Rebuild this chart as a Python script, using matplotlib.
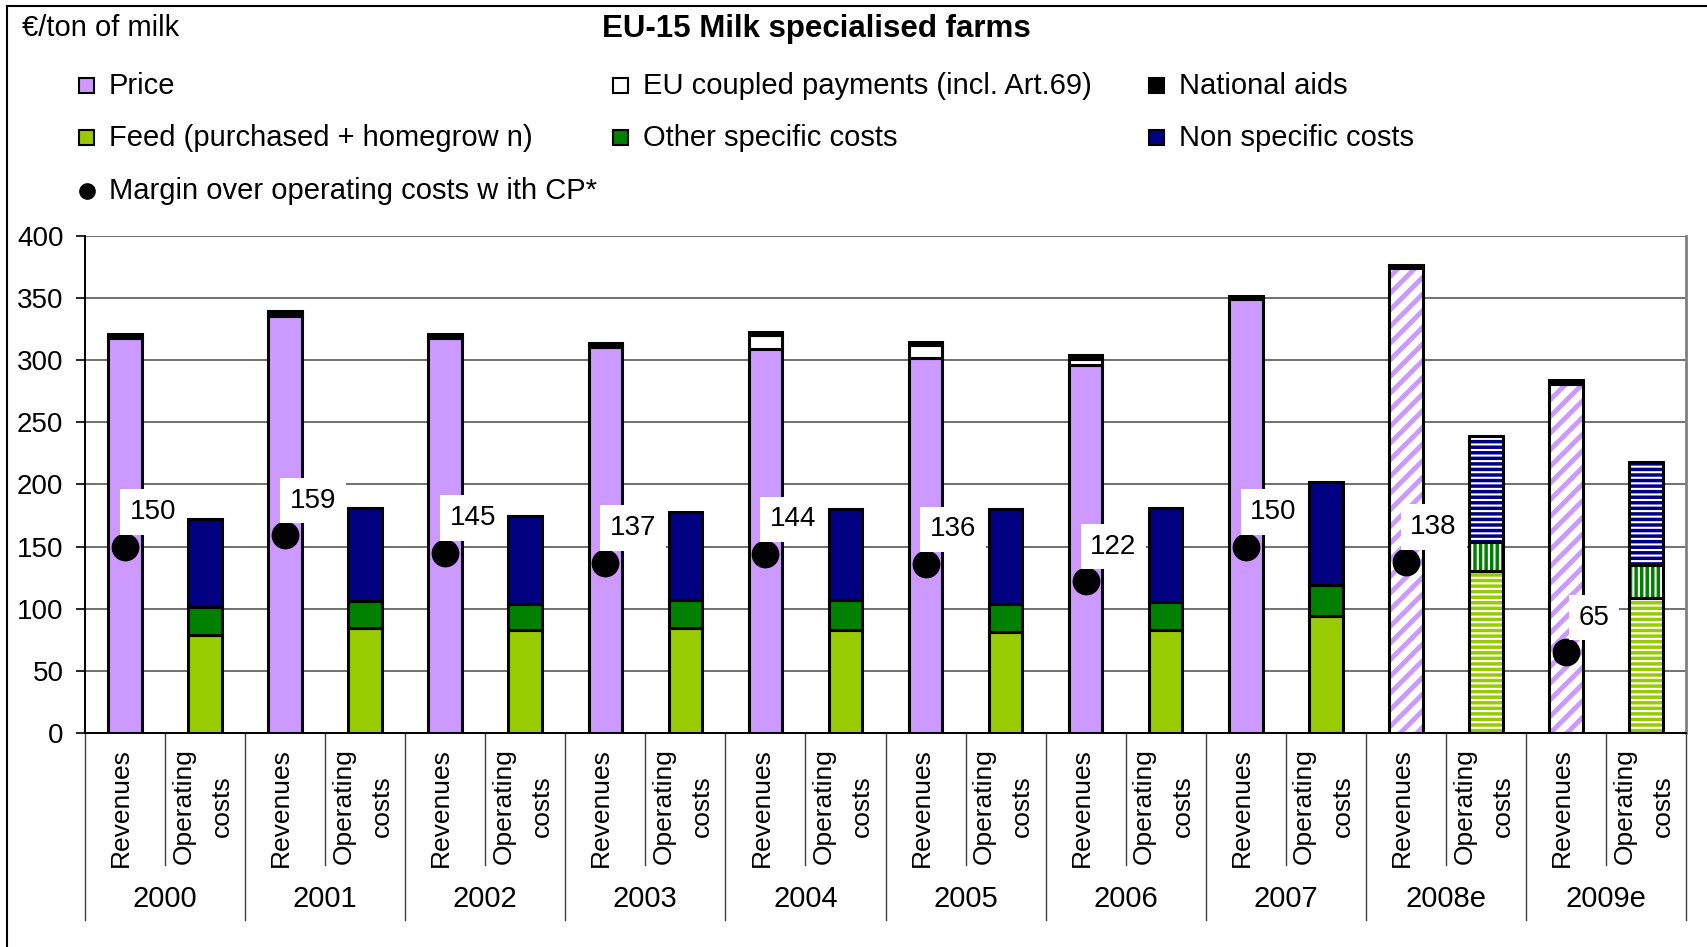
import numpy as np
import matplotlib
matplotlib.use("Agg")
import matplotlib.pyplot as plt
from matplotlib.patches import Rectangle
from matplotlib.lines import Line2D

plt.rcParams['font.family'] = ['Liberation Sans', 'DejaVu Sans']
plt.rcParams['hatch.linewidth'] = 2.5

# ---- data (EUR / ton of milk) ----
years = ["2000", "2001", "2002", "2003", "2004", "2005", "2006", "2007", "2008e", "2009e"]
price = [318, 335.5, 318, 310.5, 309, 302, 296, 349, 374, 280.5]
eu_coupled = [0, 0, 0, 0, 11, 10, 5, 0, 0, 0]
national_aids = [3, 4, 3, 3, 3, 3, 3, 3, 3, 4]
feed = [79, 84.5, 83, 84.5, 83, 81.5, 83, 94.5, 130, 109]
other_specific = [22.5, 22, 21, 22.5, 24, 22.5, 22.5, 24.5, 24, 26]
non_specific = [70.5, 74.5, 71, 71, 73, 76, 75.5, 83, 85, 83.5]
margin = [150, 159, 145, 137, 144, 136, 122, 150, 138, 65]
estimated = [False] * 8 + [True] * 2

W, H = 1707, 947
fig = plt.figure(figsize=(W / 100, H / 100), dpi=100)
ax = fig.add_axes([85 / W, 1 - 733 / H, (1686 - 85) / W, (733 - 236) / H])

rev_x = np.arange(len(years)) * 2
op_x = rev_x + 1
bw = 0.42
edge_lw = 2.2


def stack(xs, heights, bottoms, color, hatch, hatch_lw=2.5):
    for x, h, b, est in zip(xs, heights, bottoms, estimated):
        if h <= 0:
            continue
        if est and hatch:
            with plt.rc_context({'hatch.linewidth': hatch_lw}):
                ax.bar(x, h, bottom=b, width=bw, color='white', edgecolor=color,
                       linewidth=0, hatch=hatch, zorder=2)
            ax.bar(x, h, bottom=b, width=bw, fill=False, edgecolor='black',
                   linewidth=edge_lw, zorder=3)
        else:
            ax.bar(x, h, bottom=b, width=bw, color=color, edgecolor='black',
                   linewidth=edge_lw, zorder=3)


# revenues
b = np.zeros(len(years))
stack(rev_x, price, b, '#CC99FF', '//', 3.5)
b = b + np.array(price)
stack(rev_x, eu_coupled, b, 'white', None)
b = b + np.array(eu_coupled)
stack(rev_x, national_aids, b, 'black', None)

# operating costs
b = np.zeros(len(years))
stack(op_x, feed, b, '#99CC00', '---')
b = b + np.array(feed)
stack(op_x, other_specific, b, '#008000', '|||')
b = b + np.array(other_specific)
stack(op_x, non_specific, b, '#000080', '---')

# margin dots + labels
ax.plot(rev_x, margin, 'o', color='black', ms=19, linestyle='none', zorder=5)
for x, m in zip(rev_x, margin):
    ax.annotate(str(m), (x, m), xytext=(20, 25), textcoords='offset points',
                ha='center', va='center', fontsize=20, zorder=6,
                bbox=dict(boxstyle='square,pad=0.35', fc='white', ec='none'))

# axes styling
ax.set_xlim(-0.5, 2 * len(years) - 0.5)
ax.set_ylim(0, 400)
ax.set_yticks(range(0, 401, 50))
ax.tick_params(axis='y', labelsize=20, length=6.5, width=1.2, pad=9, direction='out')
ax.set_xticks([])
ax.set_axisbelow(True)
ax.yaxis.grid(True, color='#707070', linewidth=1.4)
ax.spines['left'].set_color('black')
ax.spines['left'].set_linewidth(1.4)
ax.spines['bottom'].set_color('black')
ax.spines['bottom'].set_linewidth(1.4)
ax.spines['right'].set_color('#808080')
ax.spines['right'].set_linewidth(2)
ax.spines['top'].set_visible(False)

# two-level category axis
tr = ax.get_xaxis_transform()
for i, yr in enumerate(years):
    ax.text(rev_x[i] - 0.05, -0.151, "Revenues", rotation=90, ha='center', va='center',
            fontsize=19, transform=tr)
    ax.text(op_x[i] - 0.03, -0.147, "Operating\ncosts", rotation=90, ha='center', va='center',
            multialignment='center', fontsize=19, linespacing=1.75, transform=tr)
    ax.text(rev_x[i] + 0.5, -0.334, yr, ha='center', va='center', fontsize=21,
            transform=tr)
    ax.plot([rev_x[i] + 0.5] * 2, [0, -0.266], color='#404040', lw=1,
            transform=tr, clip_on=False)
for xb in np.arange(len(years) + 1) * 2 - 0.5:
    ax.plot([xb, xb], [0, -0.376], color='#404040', lw=1, transform=tr, clip_on=False)

# title and unit
fig.text(816 / W, 1 - 29 / H, "EU-15 Milk specialised farms", ha='center', va='center',
         fontsize=22.5, fontweight='bold')
fig.text(22 / W, 1 - 28 / H, "€/ton of milk", ha='left', va='center', fontsize=21)

# legend drawn by hand (row-wise layout)
legend_items = [
    ("Price", '#CC99FF', 79, 86),
    ("EU coupled payments (incl. Art.69)", 'white', 613, 86),
    ("National aids", 'black', 1149, 86),
    ("Feed (purchased + homegrow n)", '#99CC00', 79, 138),
    ("Other specific costs", '#008000', 613, 138),
    ("Non specific costs", '#000080', 1149, 138),
]
sq = 15
for label, col, x0, yc in legend_items:
    fig.add_artist(Rectangle((x0 / W, 1 - (yc + sq / 2) / H), sq / W, sq / H,
                             transform=fig.transFigure, facecolor=col,
                             edgecolor='black', linewidth=1.5))
    fig.text((x0 + 30) / W, 1 - yc / H, label, ha='left', va='center', fontsize=21)
fig.add_artist(Line2D([(79 + sq / 2) / W], [1 - 191 / H], marker='o', ms=11,
                      color='black', transform=fig.transFigure))
fig.text((79 + 30) / W, 1 - 191 / H, "Margin over operating costs w ith CP*",
         ha='left', va='center', fontsize=21)

# frame lines at the top and left edge
fig.add_artist(Line2D([7 / W, 7 / W], [0, 1 - 6 / H], color='black', lw=1.5,
                      transform=fig.transFigure))
fig.add_artist(Line2D([7 / W, 1], [1 - 6 / H, 1 - 6 / H], color='black', lw=1.5,
                      transform=fig.transFigure))

fig.savefig("out.png", dpi=100, facecolor='white')
